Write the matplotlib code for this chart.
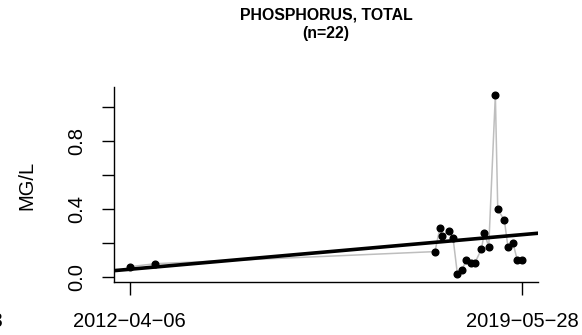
import matplotlib
matplotlib.use("Agg")
import matplotlib.pyplot as plt
import matplotlib.dates as mdates
import matplotlib.transforms as mtransforms
import pandas as pd

plt.rcParams['font.family'] = ['Liberation Sans', 'DejaVu Sans']

# Sample dates and total phosphorus (mg/L)
dates = ["2012-04-06", "2012-09-24", "2017-10-25", "2017-11-27", "2017-12-13",
         "2018-01-24", "2018-02-22", "2018-03-23", "2018-04-22", "2018-05-22",
         "2018-06-19", "2018-07-16", "2018-08-29", "2018-09-18", "2018-10-17",
         "2018-11-30", "2018-12-16", "2019-01-29", "2019-02-22", "2019-03-27",
         "2019-04-25", "2019-05-28"]
values = [0.062, 0.080, 0.151, 0.292, 0.241, 0.274, 0.231, 0.018, 0.043, 0.102,
          0.086, 0.082, 0.165, 0.262, 0.178, 1.072, 0.400, 0.335, 0.176, 0.202,
          0.100, 0.104]

# Trend line end values at the plot edges
trend_values = [0.039, 0.259]

tick_dates = ["2008-12-03", "2012-04-06", "2019-05-28"]
y_ticks = [0.0, 0.2, 0.4, 0.6, 0.8, 1.0]
y_labels = ["0.0", "", "0.4", "", "0.8", ""]

title = "PHOSPHORUS, TOTAL\n(n=22)"
ylabel = "MG/L"

x = pd.to_datetime(dates)
xn = mdates.date2num(x)
span = xn.max() - xn.min()
xlim = (xn.min() - 0.04 * span, xn.max() + 0.04 * span)

fig = plt.figure(figsize=(5.82, 3.35), dpi=100)
ax = fig.add_axes([114 / 582, 1 - 281.7 / 335, 424 / 582, 195 / 335])

ax.plot(xn, values, color="#bebebe", lw=1.1, zorder=1)
ax.plot(xn, values, "o", color="black", ms=4.8, zorder=2)
ax.plot(xlim, trend_values, color="black", lw=2.6, zorder=3)

ax.set_xlim(xlim)
ax.set_ylim(-0.026, 1.121)

for s in ["top", "right"]:
    ax.spines[s].set_visible(False)
for s in ["left", "bottom"]:
    ax.spines[s].set_linewidth(1.0)

tick_len = 9
xpad = 13
fs = 14.5

tn = mdates.date2num(pd.to_datetime(tick_dates))
ax.set_xticks(tn[1:])
ax.set_xticklabels([d.replace("-", "\u2212") for d in tick_dates[1:]], fontsize=fs)

# label of an off-axis tick that shows at the left edge
tr = mtransforms.offset_copy(ax.get_xaxis_transform(), fig=fig,
                             y=-(tick_len + xpad), units="points")
ax.text(tn[0], 0, tick_dates[0].replace("-", "\u2212"), fontsize=fs,
        ha="center", va="top", clip_on=False, transform=tr)

ax.set_yticks(y_ticks)
ax.set_yticklabels(y_labels, fontsize=fs, rotation=90, va="center")
ax.tick_params(axis="both", length=tick_len, width=1.0, direction="out")
ax.tick_params(axis="x", pad=xpad)
ax.tick_params(axis="y", pad=11)

fig.text(27 / 582, 1 - 185 / 335, ylabel, rotation=90, fontsize=fs,
         ha="center", va="center")
fig.text(326 / 582, 1 - 24.5 / 335, title, fontsize=11.4, fontweight="bold",
         ha="center", va="center", linespacing=1.25)

fig.savefig("out.png", dpi=100)
